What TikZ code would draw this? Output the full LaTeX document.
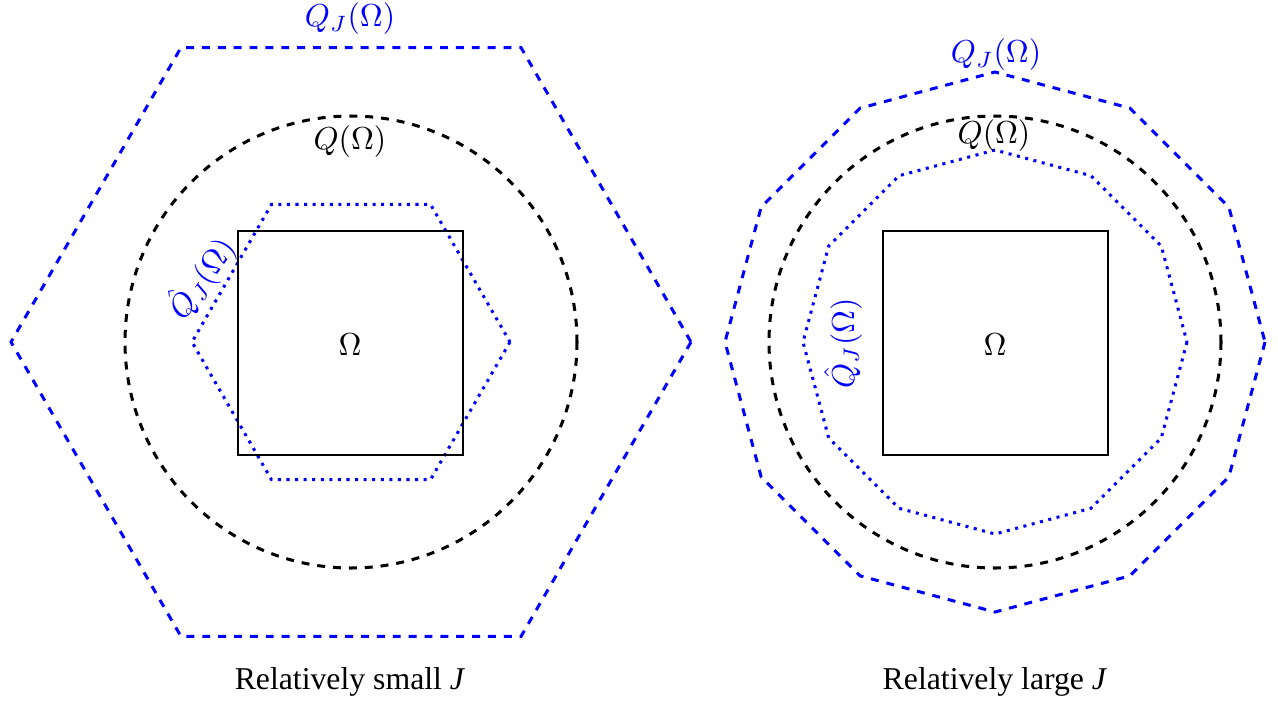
\documentclass[tikz,border=0pt]{standalone}
\usepackage[no-math]{fontspec}
\setmainfont{Liberation Serif}
\usetikzlibrary{positioning}
\tikzset{
  qjset/.style={blue, line width=0.95pt, dash pattern=on 2.5pt off 2.5pt},
  qset/.style={black, line width=0.95pt, dash pattern=on 2.5pt off 2.5pt},
  qhat/.style={blue, line width=0.95pt, dash pattern=on 0.95pt off 1.75pt},
  omegabox/.style={black, line width=0.6pt},
}
\begin{document}
\begin{tikzpicture}[x=0.315pt, y=-0.315pt]
  \useasboundingbox (0,0) rectangle (1278,700);
  % relatively small J
  \draw[qjset, shift={(351,342)}] (0:340) \foreach \a in {60,120,...,300} { -- (\a:340)} -- cycle; %
  \draw[qset] (351,342) circle (226); %
  \draw[qhat, shift={(351,342)}] (0:159) \foreach \a in {60,120,...,300} { -- (\a:159)} -- cycle; %
  \draw[omegabox] (238,231) rectangle (463,455); %
  \node (omL) at (350,345) {$\Omega$}; %
  \node[blue] (qjL) at (350,19) {$Q_J(\Omega)$}; %
  \node (qL) at (350,142) {$Q(\Omega)$}; %
  \node[blue, rotate=55] (qhatL) at (201,278) {$\hat{Q}_J(\Omega)$}; %
  \node (capL) at (350,682) {Relatively small \textit{J}}; %
  % relatively large J
  \draw[qjset, shift={(995,342)}] (0:270) \foreach \a in {30,60,...,330} { -- (\a:270)} -- cycle; %
  \draw[qset] (995,342) circle (226); %
  \draw[qhat, shift={(995,342)}] (0:192) \foreach \a in {30,60,...,330} { -- (\a:192)} -- cycle; %
  \draw[omegabox] (883,231) rectangle (1108,455); %
  \node (omR) at (995,345) {$\Omega$}; %
  \node[blue] (qjR) at (996,55) {$Q_J(\Omega)$}; %
  \node (qR) at (994,136) {$Q(\Omega)$}; %
  \node[blue, rotate=90] (qhatR) at (843,343) {$\hat{Q}_J(\Omega)$}; %
  \node (capR) at (995,682) {Relatively large \textit{J}}; %
\end{tikzpicture}
\end{document}
